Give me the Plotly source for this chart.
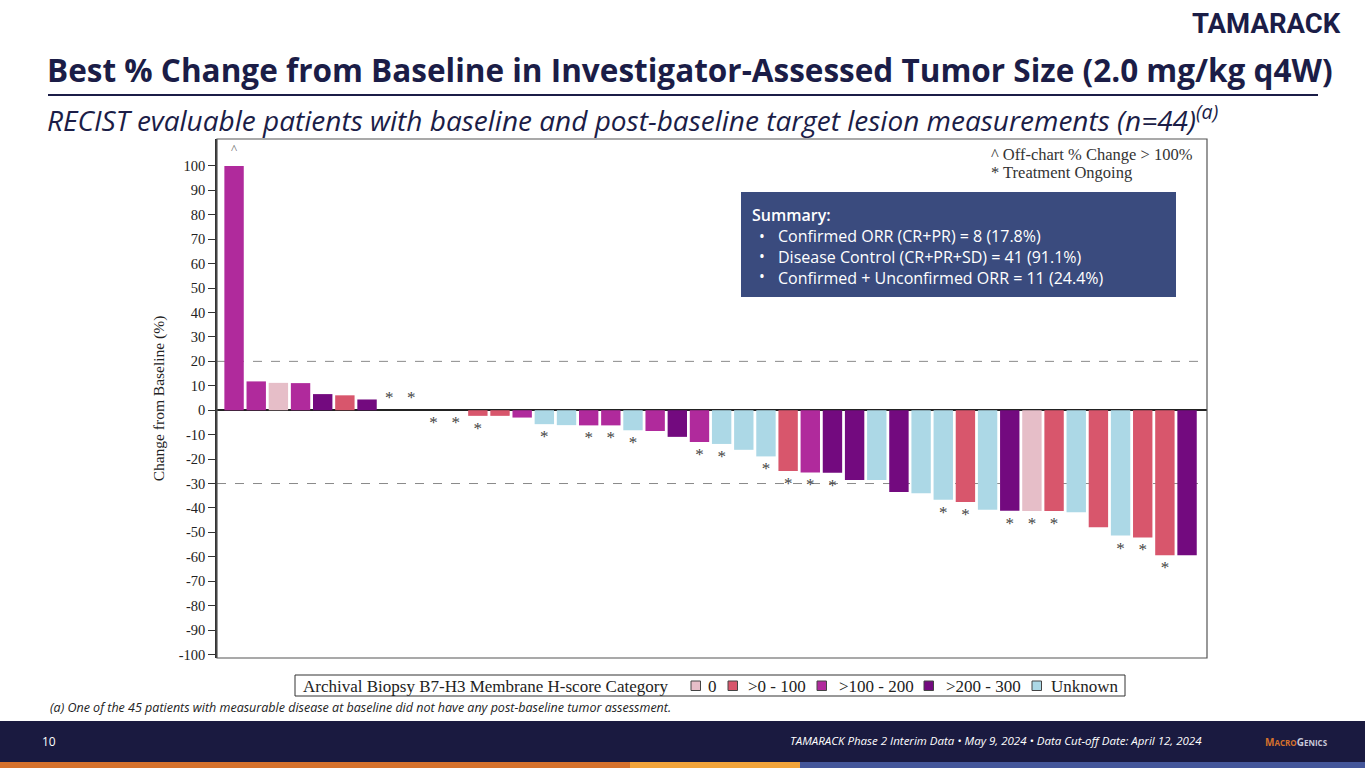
import plotly.graph_objects as go

# ---------------- data ----------------
patients = list(range(44))
values = [100, 11.8, 11.2, 11.1, 6.6, 6.1, 4.4, 0.0, 0.0, 0.0, 0.0, -2.3, -2.3, -3.0,
          -5.7, -6.1, -6.2, -6.2, -8.2, -8.5, -10.9, -13.0, -13.8, -16.2, -18.9, -24.9,
          -25.5, -25.6, -28.6, -28.6, -33.5, -34.0, -36.6, -37.6, -40.7, -41.1, -41.2,
          -41.2, -41.8, -47.9, -51.3, -52.1, -59.3, -59.3]
categories = [">100 - 200", ">100 - 200", "0", ">100 - 200", ">200 - 300", ">0 - 100",
              ">200 - 300", "Unknown", "Unknown", "Unknown", "Unknown", ">0 - 100",
              ">0 - 100", ">100 - 200", "Unknown", "Unknown", ">100 - 200", ">100 - 200",
              "Unknown", ">100 - 200", ">200 - 300", ">100 - 200", "Unknown", "Unknown",
              "Unknown", ">0 - 100", ">100 - 200", ">200 - 300", ">200 - 300", "Unknown",
              ">200 - 300", "Unknown", "Unknown", ">0 - 100", "Unknown", ">200 - 300", "0",
              ">0 - 100", "Unknown", ">0 - 100", "Unknown", ">0 - 100", ">0 - 100",
              ">200 - 300"]
# treatment ongoing: "+" star drawn above the bar, "-" below, "" none
ongoing = ["", "", "", "", "", "", "", "+", "+", "-", "-", "-", "", "", "-", "", "-", "-",
           "-", "", "", "-", "-", "", "-", "-", "-", "-", "", "", "", "", "-", "-", "",
           "-", "-", "-", "", "", "-", "-", "-", ""]
offchart = [1] + [0] * 43
category_order = ["0", ">0 - 100", ">100 - 200", ">200 - 300", "Unknown"]
category_colors = ["#e6bec8", "#d8566c", "#b02a9c", "#730a7f", "#acd8e6"]
thresholds = [20, -30]
y_ticks = list(range(-100, 101, 10))

legend_title = "Archival Biopsy B7-H3 Membrane H-score Category"
summary_title = "Summary:"
summary_lines = ["Confirmed ORR (CR+PR) = 8 (17.8%)",
                 "Disease Control (CR+PR+SD) = 41 (91.1%)",
                 "Confirmed + Unconfirmed ORR = 11 (24.4%)"]

# ---------------- layout helpers (pixel -> paper) ----------------
W, H = 1365, 768
L, R, T, B = 217, 158, 139, 110
PW, PH = W - L - R, H - T - B


def px(x):
    return (x - L) / PW


def py(y):
    return (H - B - y) / PH


NAVY = "#1b1d47"
SERIF = "Liberation Serif, Times New Roman, serif"
SANS = "Open Sans, Noto Sans, sans-serif"

fig = go.Figure()

# bars, one trace per category (zero-change bars have no visible height)
for cat, col in zip(category_order, category_colors):
    xs = [p for p, c, v in zip(patients, categories, values) if c == cat and v != 0]
    ys = [v for v, c in zip(values, categories) if c == cat and v != 0]
    fig.add_trace(go.Bar(x=xs, y=ys, width=0.875, marker=dict(color=col, line=dict(width=0)),
                         showlegend=False, name=cat, hoverinfo="y"))

# treatment-ongoing stars
sx = [p for p, o in zip(patients, ongoing) if o]
sy = [(v + 4.6) if o == "+" else (v - 5.6) for v, o in zip(values, ongoing) if o]
fig.add_trace(go.Scatter(x=sx, y=sy, mode="text", text=["*"] * len(sx),
                         textfont=dict(family=SERIF, size=17, color="#444444"),
                         showlegend=False, hoverinfo="skip"))

# off-chart marker
ox = [p for p, o in zip(patients, offchart) if o]
oy = [values[p] + 6.5 for p in ox]
fig.add_trace(go.Scatter(x=ox, y=oy, mode="text", text=["^"] * len(ox),
                         textfont=dict(family=SERIF, size=13, color="#666666"),
                         showlegend=False, hoverinfo="skip"))

shapes = []
# threshold lines
for t in thresholds:
    shapes.append(dict(type="line", xref="paper", yref="y", x0=0, x1=1, y0=t, y1=t,
                       line=dict(color="#8a8a8a", width=1, dash="dash"), layer="below"))
# plot frame
shapes.append(dict(type="rect", xref="paper", yref="paper", x0=0, x1=1, y0=0, y1=1,
                   line=dict(color="#555555", width=1.2)))
# summary box
shapes.append(dict(type="rect", xref="paper", yref="paper", x0=px(741), x1=px(1176),
                   y0=py(297), y1=py(192), fillcolor="#3a4b7e", line=dict(width=0)))
# title underline
shapes.append(dict(type="line", xref="paper", yref="paper", x0=px(48), x1=px(1318),
                   y0=py(95), y1=py(95), line=dict(color=NAVY, width=2)))
# footer band and stripes
shapes.append(dict(type="rect", xref="paper", yref="paper", x0=px(0), x1=px(W),
                   y0=py(762), y1=py(721), fillcolor="#1a1a40", line=dict(width=0)))
for x0, x1, c in [(0, 630, "#d5712c"), (630, 800, "#f2a43a"), (800, W, "#44569a")]:
    shapes.append(dict(type="rect", xref="paper", yref="paper", x0=px(x0), x1=px(x1),
                       y0=py(H), y1=py(762), fillcolor=c, line=dict(width=0)))

ann = []


def add_text(text, x, y, size, color, family=SANS, xanchor="left", yanchor="middle", **kw):
    ann.append(dict(text=text, x=px(x), y=py(y), xref="paper", yref="paper",
                    xanchor=xanchor, yanchor=yanchor, showarrow=False, align="left",
                    font=dict(family=family, size=size, color=color, **kw)))


# legend box (drawn by hand to match the compact reference legend)
shapes.append(dict(type="rect", xref="paper", yref="paper", x0=px(295), x1=px(1125),
                   y0=py(696), y1=py(675), fillcolor="white",
                   line=dict(color="#333333", width=1)))
add_text(legend_title, 301, 686, 17, "#222222", family=SERIF)
legend_square_x = [691, 728, 817, 924, 1032]
legend_text_x = [706, 746, 837, 944, 1049]
for cat, col, sx0, tx0 in zip(category_order, category_colors, legend_square_x, legend_text_x):
    shapes.append(dict(type="rect", xref="paper", yref="paper", x0=px(sx0), x1=px(sx0 + 9.5),
                       y0=py(690.5), y1=py(681), fillcolor=col,
                       line=dict(color="#444444", width=1)))
    add_text(cat, tx0, 686, 17, "#222222", family=SERIF)

add_text("TAMARACK", 1343, 24, 27.5, NAVY, family="Roboto, sans-serif",
         xanchor="right", weight="bold")
add_text("Best % Change from Baseline in Investigator-Assessed Tumor Size (2.0 mg/kg q4W)",
         45, 70, 31.5, NAVY, weight="bold")
add_text("<i>RECIST evaluable patients with baseline and post-baseline target lesion "
         "measurements (n=44)<sup>(a)</sup></i>", 45, 118, 28, NAVY)
add_text("^ Off-chart % Change > 100%", 989, 154, 16.5, "#333333", family=SERIF)
add_text("* Treatment Ongoing", 989, 172, 16.5, "#333333", family=SERIF)
add_text(summary_title, 750, 215, 16, "white", weight=600)
add_text("<br>".join(["•"] * len(summary_lines)), 757, 223, 15.5, "white", yanchor="top")
add_text("<br>".join(summary_lines), 776, 223, 16, "white", yanchor="top")
add_text("<i>(a) One of the 45 patients with measurable disease at baseline did not have any "
         "post-baseline tumor assessment.</i>", 48, 707, 12.5, "#222222")
add_text("10", 40, 741, 12, "white")
add_text("<i>TAMARACK Phase 2 Interim Data • May 9, 2024 • Data Cut-off Date: April 12, 2024</i>",
         1204, 740, 11.5, "white", xanchor="right")
add_text("<span style='color:#d5712c'>M<span style='font-size:8px'>ACRO</span></span>"
         "<span style='color:#c8c8d8'>G<span style='font-size:8px'>ENICS</span></span>",
         1296, 742, 10, "white", xanchor="center", weight="bold")

fig.update_layout(
    width=W, height=H,
    margin=dict(l=L, r=R, t=T, b=B, pad=0),
    paper_bgcolor="white", plot_bgcolor="white",
    barmode="overlay",
    shapes=shapes, annotations=ann,
    showlegend=False,
    xaxis=dict(range=[-0.77, 43.9], visible=False, fixedrange=True),
    yaxis=dict(range=[-101.4, 111], tickvals=y_ticks, ticktext=[str(v) for v in y_ticks],
               ticks="outside", ticklen=7, tickwidth=1.2, tickcolor="#333333",
               showline=True, linecolor="#333333", linewidth=1.5,
               showgrid=False, zeroline=True, zerolinecolor="#222222", zerolinewidth=2,
               tickfont=dict(family=SERIF, size=14.5, color="#222222"),
               title=dict(text="Change from Baseline (%)", standoff=10,
                          font=dict(family=SERIF, size=15.5, color="#222222")),
               fixedrange=True),
)

fig.write_html("out.html", config={"displayModeBar": False},
               post_script="document.body.style.margin='0';document.body.style.overflow='hidden';")
